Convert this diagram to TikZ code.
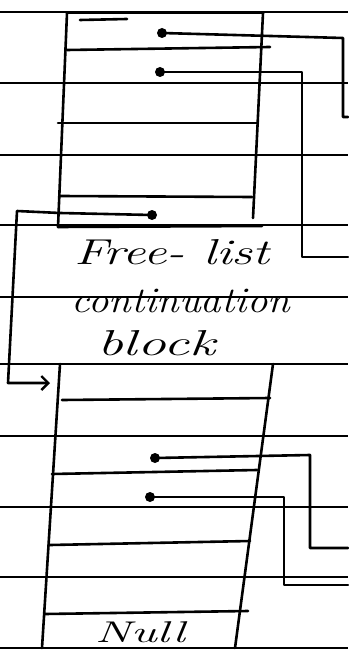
\documentclass[tikz,border=0pt]{standalone}
\usepackage{fontspec}
\usetikzlibrary{arrows.meta}
\begin{document}
\begin{tikzpicture}[x=1pt,y=-1pt,
  ruled/.style={line width=1.8pt},
  ink/.style={line width=2.6pt, line cap=round, line join=round},
  dotnode/.style={circle, fill=black, inner sep=0pt, minimum size=10pt},
  hand/.style={font=\fontsize{36}{38}\selectfont\itshape, inner sep=0pt, anchor=base}]
\useasboundingbox[fill=white] (0,0) rectangle (348,652);
% ruled paper lines
\foreach \yy in {12,83,155,225,297,364,436,507,577,648}
  \draw[ruled] (0,\yy) -- (348,\yy);
% ---- top block ----
\draw[ink] (67,13) -- (263,13);
\draw[ink] (67,13) -- (58,227);
\draw[ink] (263,13) -- (253,218);
\draw[ink] (80,20) -- (127,19);
\draw[ink] (67,50) -- (270,47);
\draw[ink] (58,123) -- (258,123);
\draw[ink] (60,196) -- (252,197);
\draw[ink] (58,227) -- (262,226);
\node[dotnode] (d1) at (162,33) {};
\node[dotnode] (d2) at (160,72) {};
\node[dotnode] (d3) at (152,215) {};
\coordinate (e1) at (348,117);
\coordinate (e2) at (348,257);
\coordinate (a3) at (50,383);
\draw[ink] (d1.center) -- (343,38) -- (343,117) -- (e1);
\draw[ink] (d2.center) -- (302,72) -- (302,257) -- (e2);
\draw[ink, -{Straight Barb[length=7pt,width=14pt,line width=2.4pt]}] (d3.center) -- (60,213) -- (17,211) -- (8,383) -- (a3);
% ---- label ----
\node[hand] (t1) at (172,264) {\resizebox{195pt}{\height}{Free- list}};
\node[hand] (t2) at (181,312) {\resizebox{218pt}{\height}{continuation}};
\node[hand] (t3) at (156,355) {\resizebox{118pt}{\height}{block}};
% ---- bottom block ----
\draw[ink] (60,364) -- (273,364);
\draw[ink] (60,364) -- (42,648);
\draw[ink] (273,364) -- (235,648);
\draw[ink] (62,400) -- (270,398);
\draw[ink] (52,474) -- (257,470);
\draw[ink] (50,545) -- (250,541);
\draw[ink] (45,614) -- (248,611);
\draw[ink] (42,648) -- (235,648);
\node[dotnode] (d4) at (155,458) {};
\node[dotnode] (d5) at (150,497) {};
\coordinate (e4) at (348,548);
\coordinate (e5) at (348,585);
\draw[ink] (d4.center) -- (310,455) -- (310,548) -- (e4);
\draw[ink] (d5.center) -- (284,497) -- (284,585) -- (e5);
\node[hand, font=\fontsize{30}{32}\selectfont\itshape] (null) at (140,642) {\resizebox{90pt}{\height}{Null}};
\end{tikzpicture}
\end{document}
